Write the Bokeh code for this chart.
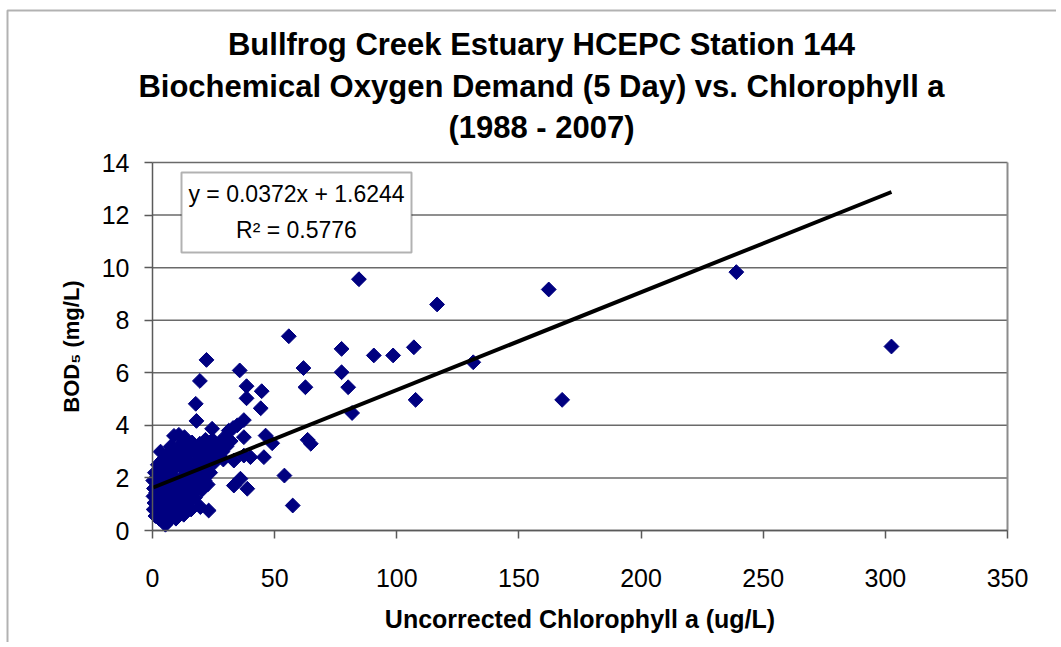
import numpy as np
from bokeh.plotting import figure
from bokeh.models import Label, BoxAnnotation, Range1d, FixedTicker
from bokeh.embed import file_html
from bokeh.resources import INLINE

# ---------------- data ----------------
chl = [
    # dense cluster near the origin
    0.3, 0.4, 0.5, 0.6, 0.8, 1.0, 1.2, 1.5, 1.7, 2.0, 2.2, 2.4,
    2.7, 2.9, 3.1, 3.3, 3.5, 3.7, 3.9, 4.1, 4.3, 4.6, 4.8, 5.0,
    5.3, 5.5, 5.7, 5.9, 6.1, 6.3, 6.6, 6.8, 7.0, 7.2, 7.5, 7.8, 8.0,
    8.3, 8.6, 8.8, 9.0, 9.3, 9.6, 9.9, 10.2, 10.5, 10.8, 11.0, 11.3,
    11.6, 11.9, 12.2, 12.5, 12.8, 13.1, 13.4, 13.7, 14.0, 14.3, 14.7, 15.0,
    15.4, 15.8, 16.2, 16.6, 17.0, 17.4, 17.8, 18.2, 18.6, 19.0, 19.4, 19.8,
    20.3, 20.8, 21.3, 21.7, 22.2, 22.6, 23.1, 23.6, 24.1, 24.6,
    25.5, 26.2, 27.0, 27.8, 28.6, 29.5, 30.3, 31.2, 32.0, 33.0, 34.7, 33.3, 29.0,
    # scattered points around the cluster
    19.6, 23.0, 36.0, 33.3, 38.8, 37.4, 40.1, 45.6, 37.4, 37.4, 18.0, 17.7,
    19.4, 22.1, 24.4, 35.7, 38.5, 38.5, 44.7, 44.3, 46.3, 49.0,
    # mid-range and high values
    54.0, 57.4, 55.8, 61.8, 62.6, 63.5, 64.8, 77.4, 77.4, 80.1, 81.7, 84.5,
    90.6, 98.5, 107.0, 107.7, 116.5, 131.3, 162.2, 167.7, 239.0, 302.5,
]
bod = [
    1.9, 1.3, 0.8, 1.6, 1.05, 2.2, 0.55, 1.45, 1.8, 0.9, 2.5, 1.2,
    0.45, 1.65, 2.0, 3.0, 0.75, 1.35, 2.35, 1.0, 2.7, 0.35, 1.85, 1.2,
    0.22, 2.2, 0.6, 1.55, 2.9, 0.95, 1.9, 2.55, 0.4, 1.3, 3.2, 2.1, 0.75,
    1.6, 2.8, 3.6, 1.1, 2.4, 0.45, 1.9, 3.0, 1.4, 3.64, 0.85, 2.6,
    2.0, 3.3, 1.2, 2.35, 0.6, 3.55, 1.7, 2.85, 1.0, 2.2, 3.1, 1.45,
    2.6, 0.8, 3.35, 1.9, 2.45, 1.25, 3.0, 2.1, 1.6, 2.75, 3.3, 2.3,
    1.55, 2.9, 1.9, 3.45, 2.5, 1.75, 3.1, 2.2, 2.85, 3.45,
    2.6, 3.1, 2.9, 3.35, 3.0, 3.55, 3.2, 3.8, 3.4, 3.9, 4.0, 2.66, 2.7,
    0.89, 0.76, 1.97, 1.71, 1.59, 2.85, 2.79, 2.79, 3.55, 4.2, 4.17, 4.82,
    5.69, 6.49, 3.87, 6.09, 5.49, 5.03, 5.3, 4.65, 3.61, 3.32,
    2.09, 0.95, 7.39, 6.18, 5.45, 3.45, 3.3, 6.91, 6.02, 5.45, 4.47, 9.56,
    6.66, 6.66, 6.97, 4.97, 8.6, 6.4, 9.17, 4.97, 9.83, 7.0,
]
slope = 0.0372
intercept = 1.6244
r_squared = 0.5776
x_ticks = [0, 50, 100, 150, 200, 250, 300, 350]
y_ticks = [0, 2, 4, 6, 8, 10, 12, 14]

title_lines = [
    "Bullfrog Creek Estuary HCEPC Station 144",
    "Biochemical Oxygen Demand (5 Day) vs. Chlorophyll a",
    "(1988 - 2007)",
]
x_title = "Uncorrected Chlorophyll a (ug/L)"
y_title = "BOD\u2085 (mg/L)"

# ---------------- layout ----------------
W, H = 1056, 642
FL, FR, FT, FB = 152, 1007, 162, 530       # plot-area edges in page pixels
X0, X1 = x_ticks[0], x_ticks[-1]
Y0, Y1 = y_ticks[0], y_ticks[-1]

def dx(px):
    return X0 + (px - FL) * (X1 - X0) / (FR - FL)

def dy(py):
    return Y0 + (FB - py) * (Y1 - Y0) / (FB - FT)

FONT = "Liberation Sans"

# the frame covers the whole canvas; axes are pinned at the data origin
p = figure(width=W, height=H, output_backend="svg", toolbar_location=None,
           x_range=Range1d(dx(0), dx(W)), y_range=Range1d(dy(H), dy(0)),
           min_border=0, min_border_left=0, min_border_right=0,
           min_border_top=0, min_border_bottom=0)
p.background_fill_color = "white"
p.border_fill_color = "white"
p.outline_line_color = None
p.grid.visible = False

GRID = "#6a6a6a"
AXIS = "#5a5a5a"

# horizontal gridlines and plot-area right border
p.segment(x0=[X0] * len(y_ticks), x1=[X1] * len(y_ticks), y0=y_ticks, y1=y_ticks,
          line_color=GRID, line_width=1.5)
p.segment(x0=[X1], x1=[X1], y0=[Y0], y1=[Y1], line_color="#8c8c8c", line_width=2)

for ax in (p.xaxis[0], p.yaxis[0]):
    ax.fixed_location = 0
    ax.axis_line_color = AXIS
    ax.axis_line_width = 1.5
    ax.major_tick_line_color = AXIS
    ax.major_tick_line_width = 1.5
    ax.major_tick_in = 0
    ax.major_tick_out = 8
    ax.minor_tick_line_color = None
    ax.major_label_text_font = FONT
    ax.major_label_text_font_size = "25px"
    ax.major_label_text_color = "black"
    ax.axis_label_text_font = FONT
    ax.axis_label_text_font_style = "bold"
    ax.axis_label_text_color = "black"
p.xaxis.bounds = (X0, X1)
p.yaxis.bounds = (Y0, Y1)
p.xaxis.ticker = FixedTicker(ticks=x_ticks)
p.yaxis.ticker = FixedTicker(ticks=y_ticks)
p.xaxis.major_label_standoff = 30
p.yaxis.major_label_standoff = 15
p.xaxis.axis_label = x_title
p.xaxis.axis_label_text_font_size = "25px"
p.xaxis.axis_label_standoff = 15
p.yaxis.axis_label = y_title
p.yaxis.axis_label_text_font_size = "22px"
p.yaxis.axis_label_standoff = 15

# outer chart border (only its left and top edges fall on the canvas)
p.add_layout(BoxAnnotation(left=dx(7), right=dx(W + 40), top=dy(10), bottom=dy(H + 40),
                           fill_alpha=0, line_color="black", line_width=2))

# data points
p.scatter(chl, bod, marker="square", angle=np.pi / 4, size=10.5,
          fill_color="#000080", line_color="#000080", line_width=1)

# linear trendline over the data range
xs = np.array([min(chl), max(chl)])
p.line(xs, slope * xs + intercept, line_color="black", line_width=4)

# equation box
p.add_layout(BoxAnnotation(left=dx(181), right=dx(411), top=dy(172), bottom=dy(252),
                           fill_color="white", fill_alpha=1, line_color="black", line_width=2))
eq1 = f"y = {slope:.4f}x + {intercept:.4f}"
eq2 = f"R\u00b2 = {r_squared:.4f}"
for txt, py in ((eq1, 193), (eq2, 229)):
    p.add_layout(Label(x=dx(296), y=dy(py), text=txt, text_align="center",
                       text_baseline="middle", text_font=FONT,
                       text_font_size="23px", text_color="black"))

# chart title, three centred lines
for txt, py in zip(title_lines, (44, 86, 127)):
    p.add_layout(Label(x=dx(541), y=dy(py), text=txt, text_align="center",
                       text_baseline="middle", text_font=FONT,
                       text_font_size="31px", text_font_style="bold", text_color="black"))

open("out.html", "w").write(file_html(p, INLINE))
